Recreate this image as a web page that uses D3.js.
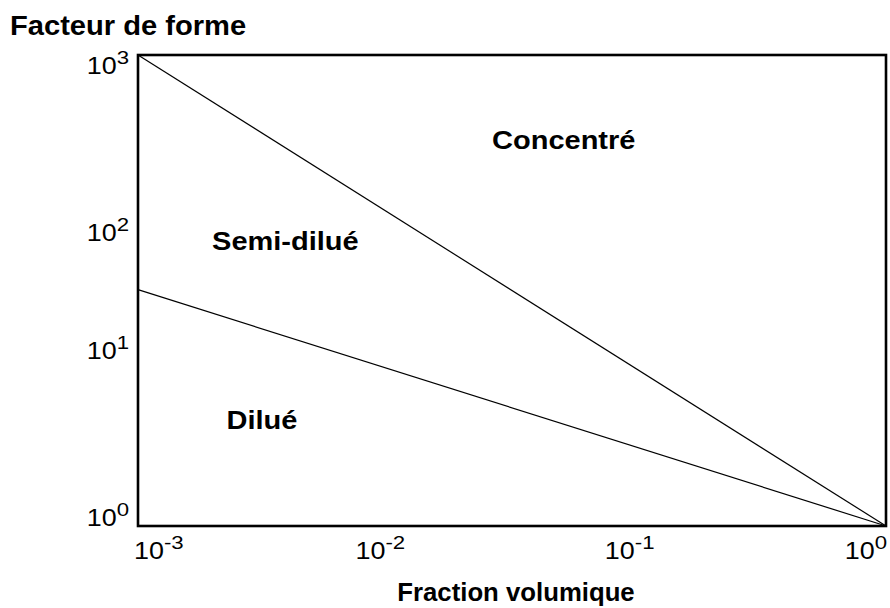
<!DOCTYPE html>
<html>
<head>
<meta charset="utf-8">
<script src="https://cdn.jsdelivr.net/npm/d3@7"></script>
<style>
  body { margin: 0; background: #fff; }
  svg { font-family: Arial, "Liberation Sans", Helvetica, sans-serif; }
</style>
</head>
<body>
<svg id="chart"></svg>
<script>
// boundaries between regimes: r = 1/phi and r = phi^-1/2
const PHI_DOMAIN = [1e-3, 1];
const R_DOMAIN = [1, 1e3];
const CONCENTRATED_LINE = [[1e-3, 1000], [1, 1]];
const DILUTE_LINE = [[1e-3, 32], [1, 1]];

const X_TICKS = [1e-3, 1e-2, 1e-1, 1];
const X_TICK_EXP = ["-3", "-2", "-1", "0"];
const Y_TICKS = [1, 10, 100, 1000];
const Y_TICK_EXP = ["0", "1", "2", "3"];

const REGION_NAMES = ["Concentré", "Semi-dilué", "Dilué"];
const REGION_PHI = [0.051, 0.0039, 0.00314];
const REGION_R = [251, 57, 4.15];

const WIDTH = 890;
const HEIGHT = 608;
const MARGIN = {top: 55, right: 4, bottom: 82, left: 138};

// label placement tweaks (px) to follow the original figure
const Y_LABEL_DY = [0, -10, 29, 19];
const X_LABEL_DX = [-4, -7, -7, 1];
const X_LABEL_ANCHOR = ["start", "middle", "middle", "end"];

// the original text looks a bit wider than Arial
const TICK_STRETCH = 1.17;
const REGION_STRETCH = 1.16;

let svg = d3.select("#chart")
    .attr("width", WIDTH)
    .attr("height", HEIGHT);

let w = WIDTH - MARGIN.left - MARGIN.right;
let h = HEIGHT - MARGIN.top - MARGIN.bottom;

let xScale = d3.scaleLog().domain(PHI_DOMAIN).range([0, w]);
let yScale = d3.scaleLog().domain(R_DOMAIN).range([h, 0]);

let g = svg.append("g")
    .attr("transform", "translate(" + MARGIN.left + "," + MARGIN.top + ")");

function addText(parent, x, y, sx) {
    return parent.append("g")
        .attr("transform", "translate(" + x + "," + y + ") scale(" + sx + ",1)")
        .append("text")
        .attr("fill", "#000");
}

// regime boundaries
let line = d3.line()
    .x(function(d) { return xScale(d[0]); })
    .y(function(d) { return yScale(d[1]); });

[CONCENTRATED_LINE, DILUTE_LINE].forEach(function(pts) {
    g.append("path")
        .attr("d", line(pts))
        .attr("fill", "none")
        .attr("stroke", "#000")
        .attr("stroke-width", 1.2);
});

// frame
g.append("rect")
    .attr("x", 0)
    .attr("y", 0)
    .attr("width", w)
    .attr("height", h)
    .attr("fill", "none")
    .attr("stroke", "#000")
    .attr("stroke-width", 2.6);

// y tick labels
Y_TICKS.forEach(function(v, i) {
    let t = addText(g, -9, yScale(v) + Y_LABEL_DY[i], TICK_STRETCH)
        .attr("text-anchor", "end")
        .attr("font-size", "23px");
    t.append("tspan").text("10");
    t.append("tspan")
        .attr("dy", -10)
        .attr("font-size", "19px")
        .text(Y_TICK_EXP[i]);
});

// x tick labels
X_TICKS.forEach(function(v, i) {
    let t = addText(g, xScale(v) + X_LABEL_DX[i], h + 33, TICK_STRETCH)
        .attr("text-anchor", X_LABEL_ANCHOR[i])
        .attr("font-size", "23px");
    t.append("tspan").text("10");
    t.append("tspan")
        .attr("dy", -10)
        .attr("font-size", "19px")
        .text(X_TICK_EXP[i]);
});

// region names
REGION_NAMES.forEach(function(name, i) {
    addText(g, xScale(REGION_PHI[i]), yScale(REGION_R[i]), REGION_STRETCH)
        .attr("text-anchor", "middle")
        .attr("font-size", "25px")
        .attr("font-weight", "bold")
        .text(name);
});

// axis titles
addText(svg, 10, 35, 1.04)
    .attr("font-size", "28px")
    .attr("font-weight", "bold")
    .text("Facteur de forme");

addText(svg, MARGIN.left + w / 2 + 4, 601, 1.03)
    .attr("text-anchor", "middle")
    .attr("font-size", "25px")
    .attr("font-weight", "bold")
    .text("Fraction volumique");
</script>
</body>
</html>
